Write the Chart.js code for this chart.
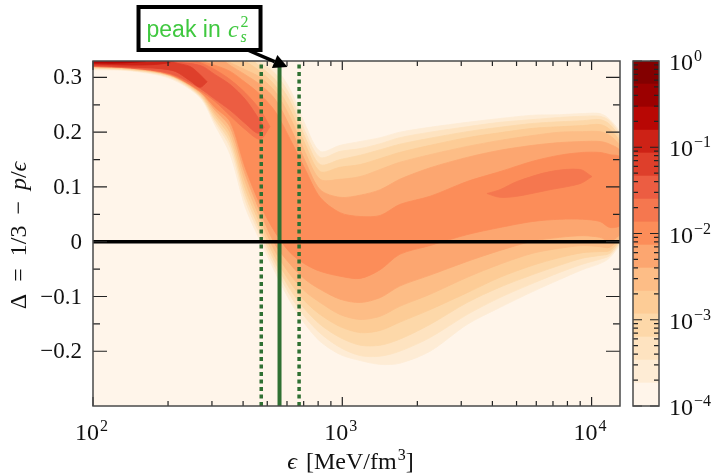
<!DOCTYPE html>
<html>
<head>
<meta charset="utf-8">
<script src="https://cdn.jsdelivr.net/npm/chart.js@4.4.1/dist/chart.umd.min.js"></script>
<style>
  html, body { margin: 0; padding: 0; background: #fff; }
  #wrap { position: relative; width: 718px; height: 476px; }
  #main { position: absolute; left: 0; top: 0; }
  #cbar { position: absolute; left: 620px; top: 0; }
</style>
</head>
<body>
<div id="wrap">
  <canvas id="main" width="718" height="476"></canvas>
  <canvas id="cbar" width="98" height="476"></canvas>
</div>
<script>
// energy density columns (MeV/fm^3) where the contour edges were read
const epsGrid = [100, 141, 204, 269, 309, 355, 408, 468, 538, 618, 710, 815, 980, 1180, 1420, 1700, 2250, 3170, 4290, 5810, 7450, 9200, 10800, 11840, 13000];

// upper / lower edge of each density level (Delta values), outermost first
const band1Hi = [0.34, 0.34, 0.34, 0.34, 0.34, 0.34, 0.34, 0.34, 0.318, 0.278, 0.214, 0.165, 0.176, 0.183, 0.190, 0.200, 0.209, 0.218, 0.225, 0.231, 0.232, 0.234, 0.234, 0.223, 0.196];
const band1Lo = [0.314, 0.312, 0.298, 0.263, 0.212, 0.159, 0.063, 0.002, -0.056, -0.109, -0.151, -0.182, -0.206, -0.217, -0.224, -0.222, -0.200, -0.151, -0.120, -0.091, -0.069, -0.051, -0.040, -0.029, 0.000];
const band2Hi = [0.34, 0.34, 0.34, 0.34, 0.34, 0.34, 0.34, 0.327, 0.307, 0.267, 0.201, 0.154, 0.165, 0.170, 0.179, 0.190, 0.200, 0.210, 0.218, 0.223, 0.227, 0.229, 0.229, 0.220, 0.190];
const band2Lo = [0.316, 0.313, 0.300, 0.265, 0.218, 0.172, 0.075, 0.012, -0.047, -0.098, -0.138, -0.167, -0.193, -0.208, -0.209, -0.200, -0.175, -0.133, -0.102, -0.076, -0.056, -0.041, -0.032, -0.025, 0.003];
const band3Hi = [0.34, 0.34, 0.34, 0.34, 0.34, 0.34, 0.34, 0.320, 0.296, 0.256, 0.190, 0.141, 0.150, 0.158, 0.168, 0.178, 0.189, 0.201, 0.209, 0.216, 0.219, 0.221, 0.223, 0.214, 0.185];
const band3Lo = [0.317, 0.314, 0.302, 0.267, 0.223, 0.181, 0.086, 0.021, -0.038, -0.087, -0.124, -0.151, -0.175, -0.189, -0.189, -0.178, -0.151, -0.111, -0.083, -0.060, -0.043, -0.030, -0.025, -0.021, 0.006];
const band4Hi = [0.34, 0.34, 0.34, 0.34, 0.34, 0.34, 0.329, 0.311, 0.285, 0.241, 0.178, 0.128, 0.136, 0.141, 0.152, 0.163, 0.176, 0.190, 0.199, 0.207, 0.210, 0.212, 0.214, 0.205, 0.179];
const band4Lo = [0.318, 0.315, 0.303, 0.269, 0.229, 0.190, 0.097, 0.032, -0.029, -0.074, -0.109, -0.133, -0.155, -0.166, -0.162, -0.147, -0.124, -0.093, -0.065, -0.043, -0.029, -0.020, -0.018, -0.016, 0.009];
const band5Hi = [0.34, 0.34, 0.34, 0.34, 0.34, 0.327, 0.314, 0.300, 0.274, 0.227, 0.163, 0.114, 0.114, 0.119, 0.132, 0.145, 0.159, 0.174, 0.185, 0.194, 0.200, 0.201, 0.201, 0.194, 0.172];
const band5Lo = [0.319, 0.316, 0.304, 0.271, 0.234, 0.199, 0.110, 0.043, -0.018, -0.060, -0.091, -0.111, -0.133, -0.142, -0.136, -0.118, -0.096, -0.065, -0.041, -0.021, -0.012, -0.007, -0.009, -0.010, 0.012];
const band6Hi = [0.34, 0.34, 0.34, 0.34, 0.34, 0.322, 0.305, 0.287, 0.260, 0.209, 0.147, 0.095, 0.081, 0.085, 0.095, 0.114, 0.135, 0.154, 0.167, 0.176, 0.181, 0.183, 0.183, 0.178, 0.165];
const band6Lo = [0.320, 0.317, 0.304, 0.273, 0.240, 0.209, 0.123, 0.055, -0.005, -0.041, -0.069, -0.087, -0.105, -0.111, -0.102, -0.081, -0.061, -0.036, -0.016, 0.001, 0.008, 0.011, 0.008, 0.001, 0.016];
const band7Hi = [0.34, 0.34, 0.34, 0.329, 0.322, 0.311, 0.291, 0.269, 0.238, 0.187, 0.132, 0.081, 0.053, 0.046, 0.048, 0.068, 0.083, 0.110, 0.128, 0.147, 0.158, 0.163, 0.163, 0.159, 0.154];
const band7Lo = [0.321, 0.318, 0.305, 0.274, 0.245, 0.219, 0.135, 0.068, 0.017, -0.020, -0.041, -0.054, -0.063, -0.067, -0.051, -0.023, -0.007, 0.013, 0.026, 0.037, 0.041, 0.041, 0.037, 0.026, 0.031];

// darker arm running down from the top left corner
const arm8Eps = [100, 141, 204, 269, 309, 355, 408, 468, 513];
const arm8Hi = [0.34, 0.34, 0.34, 0.327, 0.314, 0.296, 0.272, 0.241, 0.210];
const arm8Lo = [0.321, 0.319, 0.306, 0.276, 0.256, 0.230, 0.205, 0.187, 0.210];
const arm9Eps = [100, 141, 204, 269, 309, 355, 408, 459, 486];
const arm9Hi = [0.34, 0.34, 0.329, 0.322, 0.305, 0.287, 0.260, 0.227, 0.209];
const arm9Lo = [0.320, 0.317, 0.307, 0.280, 0.260, 0.240, 0.216, 0.198, 0.209];
const arm10Eps = [100, 141, 186, 214, 245, 269, 287];
const arm10Hi = [0.34, 0.34, 0.34, 0.327, 0.320, 0.305, 0.292];
const arm10Lo = [0.322, 0.319, 0.316, 0.311, 0.294, 0.282, 0.292];
const arm11Eps = [100, 141, 178, 204];
const arm11Hi = [0.34, 0.34, 0.34, 0.327];
const arm11Lo = [0.3245, 0.3226, 0.3236, 0.327];
const arm12Eps = [100, 129, 162];
const arm12Hi = [0.34, 0.34, 0.329];
const arm12Lo = [0.3263, 0.3263, 0.329];

// small island of the next level at high density
const island8Eps = [3805, 4290, 5023, 6813, 8985, 10037];
const island8Hi = [0.088, 0.095, 0.110, 0.128, 0.132, 0.119];
const island8Lo = [0.088, 0.081, 0.083, 0.095, 0.106, 0.119];

// colour levels of the colorbar (probability density)
const levelValues = [1e-4, 1.85e-4, 3.41e-4, 6.31e-4, 1.17e-3, 2.15e-3, 3.98e-3, 7.36e-3, 1.36e-2, 2.51e-2, 4.64e-2, 8.58e-2, 0.158, 0.293, 0.541, 1];
const levelColors = ['#fff5ea', '#feecd5', '#fee3c0', '#fdd8a9', '#fdcc96', '#fdbd86', '#fca670', '#fc8d59', '#f5774f', '#ec5d42', '#de3f2b', '#cd2216', '#b80704', '#9c0000', '#830000'];

const peakEps = 560, peakEpsLo = 473, peakEpsHi = 671;
const epsMin = 100, epsMax = 13000, deltaMin = -0.3, deltaMax = 0.33;

const yMajor = [0.3, 0.2, 0.1, 0, -0.1, -0.2];
const yMinor = [0.25, 0.15, 0.05, -0.05, -0.15];
const yLabels = ['0.3', '0.2', '0.1', '0', '\u22120.1', '\u22120.2'];
const xMajor = [100, 1000, 10000];
const xExp = ['2', '3', '4'];
const xMinor = [200, 300, 400, 500, 600, 700, 800, 900, 2000, 3000, 4000, 5000, 6000, 7000, 8000, 9000];
const cbMajor = [1, 0.1, 0.01, 0.001, 0.0001];
const cbExp = ['0', '\u22121', '\u22122', '\u22123', '\u22124'];
const cbMinor = [2e-4, 3e-4, 4e-4, 5e-4, 6e-4, 7e-4, 8e-4, 9e-4, 2e-3, 3e-3, 4e-3, 5e-3, 6e-3, 7e-3, 8e-3, 9e-3,
                 0.02, 0.03, 0.04, 0.05, 0.06, 0.07, 0.08, 0.09, 0.2, 0.3, 0.4, 0.5, 0.6, 0.7, 0.8, 0.9];

const serif = "'Liberation Serif', 'DejaVu Serif', serif";
const lineGreen = '#2f7032';
const textGreen = '#3fc83f';

// axis titles, pieces set in roman / italic / superscript
const xTitle = [{t: '\u03f5', it: true}, {gap: 9}, {t: '[MeV/fm'}, {t: '3', sup: true}, {t: ']'}];
const yTitle = [{t: '\u0394'}, {gap: 12}, {t: '='}, {gap: 12}, {t: '1/3'}, {gap: 11}, {t: '\u2212'}, {gap: 11},
                {t: 'p', it: true}, {t: '/'}, {t: '\u03f5', it: true}];

// "10" with a raised exponent
function drawPow(ctx, x, baseY, exp, align) {
    ctx.font = '24px ' + serif;
    const w1 = ctx.measureText('10').width;
    ctx.font = '16px ' + serif;
    const w2 = ctx.measureText(exp).width;
    const x0 = align === 'center' ? x - (w1 + w2 + 1) / 2 : x;
    ctx.textAlign = 'left';
    ctx.textBaseline = 'alphabetic';
    ctx.font = '24px ' + serif;
    ctx.fillText('10', x0, baseY);
    ctx.font = '16px ' + serif;
    ctx.fillText(exp, x0 + w1 + 1, baseY - 9);
}

function partFont(p) {
    if (p.sup) return '16px ' + serif;
    return (p.it ? 'italic ' : '') + '24px ' + serif;
}

function drawRich(ctx, parts, cx, baseY) {
    let total = 0;
    const widths = parts.map(p => {
        if (p.gap) return p.gap;
        ctx.font = partFont(p);
        return ctx.measureText(p.t).width + (p.sup ? 1 : 0);
    });
    widths.forEach(w => total += w);
    let x0 = cx - total / 2;
    ctx.textAlign = 'left';
    ctx.textBaseline = 'alphabetic';
    parts.forEach((p, i) => {
        if (!p.gap) {
            ctx.font = partFont(p);
            ctx.fillText(p.t, x0 + (p.sup ? 1 : 0), p.sup ? baseY - 9 : baseY);
        }
        x0 += widths[i];
    });
}

function outline(eps, hi, lo) {
    let pts = eps.map((e, i) => ({x: e, y: hi[i]}));
    for (let i = eps.length - 1; i >= 0; i--) {
        pts.push({x: eps[i], y: lo[i]});
    }
    return pts;
}

const bandSets = [
    {eps: epsGrid, hi: band1Hi, lo: band1Lo, level: 1},
    {eps: epsGrid, hi: band2Hi, lo: band2Lo, level: 2},
    {eps: epsGrid, hi: band3Hi, lo: band3Lo, level: 3},
    {eps: epsGrid, hi: band4Hi, lo: band4Lo, level: 4},
    {eps: epsGrid, hi: band5Hi, lo: band5Lo, level: 5},
    {eps: epsGrid, hi: band6Hi, lo: band6Lo, level: 6},
    {eps: epsGrid, hi: band7Hi, lo: band7Lo, level: 7},
    {eps: arm8Eps, hi: arm8Hi, lo: arm8Lo, level: 8},
    {eps: island8Eps, hi: island8Hi, lo: island8Lo, level: 8},
    {eps: arm9Eps, hi: arm9Hi, lo: arm9Lo, level: 9},
    {eps: arm10Eps, hi: arm10Hi, lo: arm10Lo, level: 10},
    {eps: arm11Eps, hi: arm11Hi, lo: arm11Lo, level: 11},
    {eps: arm12Eps, hi: arm12Hi, lo: arm12Lo, level: 12}
];

let datasets = bandSets.map(b => ({
    data: outline(b.eps, b.hi, b.lo),
    fill: 'shape',
    backgroundColor: levelColors[b.level],
    borderColor: levelColors[b.level],
    borderWidth: 0.8,
    pointRadius: 0,
    tension: 0.3,
    order: 100 - b.level
}));

// peak of the speed of sound and its band
datasets.push({
    data: [{x: peakEpsLo, y: deltaMin}, {x: peakEpsLo, y: deltaMax}],
    borderColor: lineGreen, borderWidth: 3.5, borderDash: [4, 3.5],
    pointRadius: 0, fill: false, order: 3
});
datasets.push({
    data: [{x: peakEpsHi, y: deltaMin}, {x: peakEpsHi, y: deltaMax}],
    borderColor: lineGreen, borderWidth: 3.5, borderDash: [4, 3.5],
    pointRadius: 0, fill: false, order: 2
});
datasets.push({
    data: [{x: peakEps, y: deltaMin}, {x: peakEps, y: deltaMax}],
    borderColor: lineGreen, borderWidth: 4,
    pointRadius: 0, fill: false, order: 1
});
// conformal limit
datasets.push({
    data: [{x: epsMin, y: 0}, {x: epsMax, y: 0}],
    borderColor: '#000', borderWidth: 3.5,
    pointRadius: 0, fill: false, order: 0
});

const frameAxes = {
    id: 'frameAxes',
    beforeDatasetsDraw(chart) {
        const {ctx, chartArea: a} = chart;
        ctx.save();
        ctx.fillStyle = levelColors[0];
        ctx.fillRect(a.left, a.top, a.right - a.left, a.bottom - a.top);
        ctx.restore();
    },
    afterDatasetsDraw(chart) {
        const {ctx, chartArea: a, scales: {x, y}} = chart;
        ctx.save();
        ctx.strokeStyle = '#222';
        ctx.lineWidth = 1.2;
        ctx.beginPath();
        xMajor.concat(xMinor).forEach(v => {
            const px = x.getPixelForValue(v);
            const len = xMajor.includes(v) ? 9 : 5;
            ctx.moveTo(px, a.bottom); ctx.lineTo(px, a.bottom - len);
            ctx.moveTo(px, a.top); ctx.lineTo(px, a.top + len);
        });
        yMajor.concat(yMinor).forEach(v => {
            const py = y.getPixelForValue(v);
            const len = yMajor.includes(v) ? 14 : 7;
            ctx.moveTo(a.left, py); ctx.lineTo(a.left + len, py);
            ctx.moveTo(a.right, py); ctx.lineTo(a.right - len, py);
        });
        ctx.stroke();

        ctx.strokeStyle = '#4a4a4a';
        ctx.lineWidth = 1.5;
        ctx.strokeRect(a.left, a.top, a.right - a.left, a.bottom - a.top);

        ctx.fillStyle = '#111';
        ctx.font = '23px ' + serif;
        ctx.textAlign = 'right';
        ctx.textBaseline = 'middle';
        yMajor.forEach((v, i) => {
            ctx.fillText(yLabels[i], a.left - 11, y.getPixelForValue(v) + 1);
        });
        xMajor.forEach((v, i) => {
            drawPow(ctx, x.getPixelForValue(v) - 1.5, a.bottom + 34, xExp[i], 'center');
        });

        // axis titles
        drawRich(ctx, xTitle, (a.left + a.right) / 2 - 6, a.bottom + 63);
        ctx.translate(26, (a.top + a.bottom) / 2 + 2);
        ctx.rotate(-Math.PI / 2);
        drawRich(ctx, yTitle, 0, 0);
        ctx.restore();
    }
};

const peakNote = {
    id: 'peakNote',
    afterDraw(chart) {
        const {ctx, scales: {x, y}} = chart;
        const tipX = x.getPixelForValue(peakEps) + 8;
        const tipY = y.getPixelForValue(deltaMax) + 6;
        ctx.save();
        // arrow
        const tx = tipX - 40, ty = tipY - 17;
        const len = Math.hypot(tipX - tx, tipY - ty);
        const dx = (tipX - tx) / len, dy = (tipY - ty) / len;
        const bx = tipX - 14 * dx, by = tipY - 14 * dy;
        ctx.strokeStyle = '#000';
        ctx.lineWidth = 3.5;
        ctx.beginPath();
        ctx.moveTo(tx, ty); ctx.lineTo(bx, by);
        ctx.stroke();
        ctx.fillStyle = '#000';
        ctx.beginPath();
        ctx.moveTo(tipX, tipY);
        ctx.lineTo(bx - 7 * dy, by + 7 * dx);
        ctx.lineTo(bx + 7 * dy, by - 7 * dx);
        ctx.closePath();
        ctx.fill();
        // box
        const left = tipX - 149, top = tipY - 60;
        ctx.fillStyle = '#fff';
        ctx.fillRect(left, top, 122, 43);
        ctx.lineWidth = 4;
        ctx.strokeRect(left, top, 122, 43);
        // label
        ctx.fillStyle = textGreen;
        ctx.textAlign = 'left';
        ctx.textBaseline = 'alphabetic';
        ctx.font = "23px 'Liberation Sans', sans-serif";
        ctx.fillText('peak in', tipX - 141, tipY - 30.5);
        ctx.font = 'italic 24px ' + serif;
        ctx.fillText('c', tipX - 59.5, tipY - 30.5);
        ctx.font = 'italic 16px ' + serif;
        ctx.fillText('s', tipX - 47, tipY - 25);
        ctx.font = '16px ' + serif;
        ctx.fillText('2', tipX - 47, tipY - 40);
        ctx.restore();
    }
};

new Chart(document.getElementById('main'), {
    type: 'line',
    data: {datasets: datasets},
    options: {
        responsive: false,
        animation: false,
        events: [],
        layout: {padding: {left: 93, top: 61, right: 98, bottom: 70}},
        plugins: {legend: {display: false}, tooltip: {enabled: false}},
        scales: {
            x: {type: 'logarithmic', min: epsMin, max: epsMax, display: false},
            y: {type: 'linear', min: deltaMin, max: deltaMax, display: false}
        }
    },
    plugins: [frameAxes, peakNote]
});

const cbarAxis = {
    id: 'cbarAxis',
    afterDatasetsDraw(chart) {
        const {ctx, chartArea: a, scales: {y}} = chart;
        ctx.save();
        ctx.strokeStyle = '#222';
        ctx.lineWidth = 1.2;
        ctx.beginPath();
        cbMajor.concat(cbMinor).forEach(v => {
            const py = y.getPixelForValue(v);
            const len = cbMajor.includes(v) ? 9 : 5;
            ctx.moveTo(a.left, py); ctx.lineTo(a.left + len, py);
            ctx.moveTo(a.right, py); ctx.lineTo(a.right - len, py);
        });
        ctx.stroke();
        ctx.strokeStyle = '#4a4a4a';
        ctx.lineWidth = 1.5;
        ctx.strokeRect(a.left, a.top, a.right - a.left, a.bottom - a.top);
        ctx.fillStyle = '#111';
        cbMajor.forEach((v, i) => {
            drawPow(ctx, a.right + 10, y.getPixelForValue(v) + 9, cbExp[i], 'left');
        });
        ctx.restore();
    }
};

new Chart(document.getElementById('cbar'), {
    type: 'bar',
    data: {
        labels: [''],
        datasets: levelColors.map((c, k) => ({
            data: [[levelValues[k], levelValues[k + 1]]],
            backgroundColor: c,
            borderWidth: 0,
            grouped: false,
            barPercentage: 1,
            categoryPercentage: 1
        }))
    },
    options: {
        responsive: false,
        animation: false,
        events: [],
        layout: {padding: {left: 13, top: 61, right: 59, bottom: 70}},
        plugins: {legend: {display: false}, tooltip: {enabled: false}},
        scales: {
            x: {display: false},
            y: {type: 'logarithmic', min: 1e-4, max: 1, display: false}
        }
    },
    plugins: [cbarAxis]
});
</script>
</body>
</html>
